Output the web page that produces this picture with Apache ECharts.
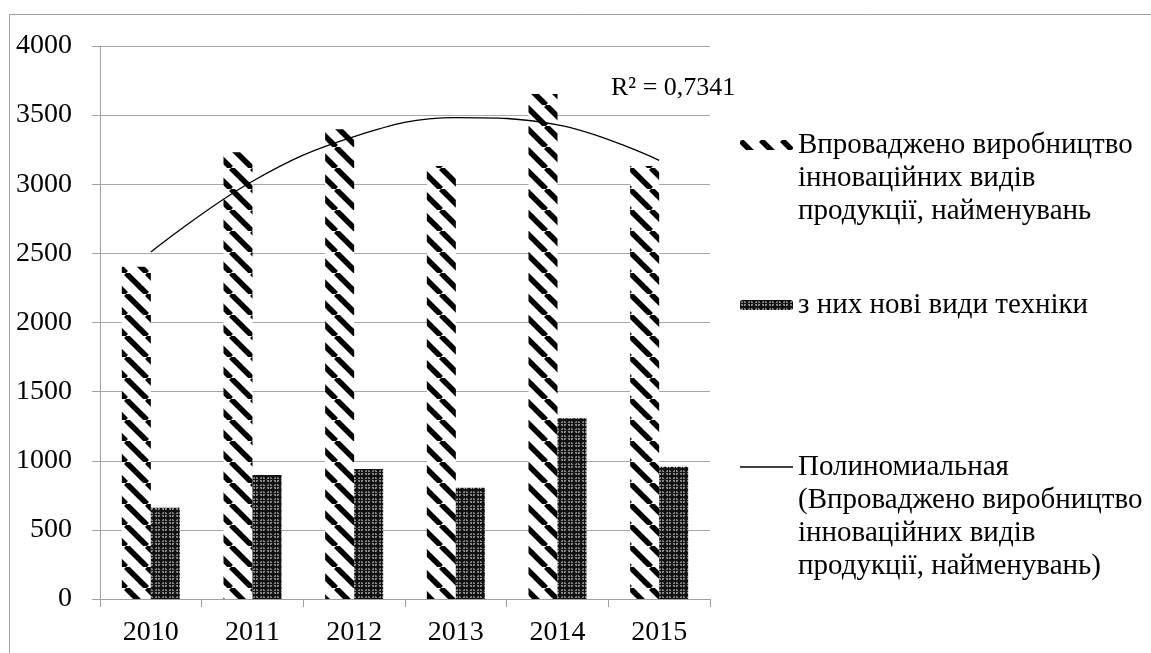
<!DOCTYPE html>
<html>
<head>
<meta charset="utf-8">
<script src="https://cdn.jsdelivr.net/npm/echarts@6/dist/echarts.min.js"></script>
<style>
  html, body { margin: 0; padding: 0; background: #fff; }
  #chart { width: 1151px; height: 653px; }
</style>
</head>
<body>
<div id="chart"></div>
<script>
// дані
const years = ['2010', '2011', '2012', '2013', '2014', '2015']
const vprovadzheno = [2404, 3231, 3397, 3132, 3653, 3132]
const noviTekhniky = [660, 897, 940, 805, 1307, 957]
// поліноміальний тренд
const trend = [2510, 3022, 3345, 3482, 3430, 3173]
const yTicks = [0, 500, 1000, 1500, 2000, 2500, 3000, 3500, 4000]

const name1 = 'Впроваджено виробництво\nінноваційних видів\nпродукції, найменувань'
const name2 = 'з них нові види техніки'
const name3 = 'Полиномиальная\n(Впроваджено виробництво\nінноваційних видів\nпродукції, найменувань)'

const FONT = '"Liberation Serif", "DejaVu Serif", serif'
const LH = 33

// штрихування "\\\"
function stripePattern() {
  const p = 21
  const c = document.createElement('canvas')
  c.width = p
  c.height = p
  const ctx = c.getContext('2d')
  ctx.fillStyle = '#fff'
  ctx.fillRect(0, 0, p, p)
  ctx.strokeStyle = '#000'
  ctx.lineWidth = 5.5
  for (let x0 = -p; x0 <= p; x0 += p) {
    ctx.beginPath()
    ctx.moveTo(x0, 0)
    ctx.lineTo(x0 + p, p)
    ctx.stroke()
  }
  return c
}

// темна сітка з крапками
function dotPattern() {
  const p = 7
  const c = document.createElement('canvas')
  c.width = p
  c.height = p
  const ctx = c.getContext('2d')
  ctx.fillStyle = '#111'
  ctx.fillRect(0, 0, p, p)
  ctx.fillStyle = '#cfcfcf'
  ctx.beginPath()
  ctx.arc(3.5, 3.5, 2.6, 0, Math.PI * 2)
  ctx.fill()
  ctx.strokeStyle = '#111'
  ctx.lineWidth = 1.4
  ctx.beginPath()
  ctx.moveTo(3.5, 1)
  ctx.lineTo(3.5, 6)
  ctx.moveTo(1, 3.5)
  ctx.lineTo(6, 3.5)
  ctx.stroke()
  return c
}

const stripes = { image: stripePattern(), repeat: 'repeat' }
const dots = { image: dotPattern(), repeat: 'repeat' }

// значок легенди стоїть навпроти першого рядка: додаємо порожні рядки зверху
function topAligned(name) {
  const n = name.split('\n').length
  return '\n'.repeat(n - 1) + name
}

const legendText = {
  fontFamily: FONT,
  fontSize: 29,
  color: '#000',
  lineHeight: LH
}

const chart = echarts.init(document.getElementById('chart'))
const option = {
  animation: false,
  backgroundColor: '#fff',
  grid: {
    left: 100,
    right: 441,
    top: 46,
    bottom: 54
  },
  graphic: [
    {
      type: 'rect',
      shape: { x: 9.5, y: 14.5, width: 1200, height: 700 },
      style: { fill: 'none', stroke: '#a0a0a0', lineWidth: 1 },
      silent: true
    },
    {
      type: 'text',
      left: 611,
      top: 75,
      style: {
        text: 'R² = 0,7341',
        font: '26px ' + FONT,
        fill: '#000'
      }
    }
  ],
  legend: [
    {
      left: 740,
      top: 145 - 2.5 * LH,
      padding: 0,
      itemWidth: 53,
      itemHeight: 10,
      data: [{ name: name1 }],
      formatter: topAligned,
      textStyle: legendText
    },
    {
      left: 740,
      top: 305 - 0.5 * LH,
      padding: 0,
      itemWidth: 53,
      itemHeight: 10,
      data: [{ name: name2 }],
      textStyle: legendText
    },
    {
      left: 740,
      top: 467 - 3.5 * LH,
      padding: 0,
      itemWidth: 53,
      itemHeight: 1.5,
      data: [{ name: name3, icon: 'rect' }],
      formatter: topAligned,
      textStyle: legendText
    }
  ],
  xAxis: {
    type: 'category',
    data: years,
    axisLine: { show: true, lineStyle: { color: '#a0a0a0', width: 1 } },
    axisTick: { show: true, length: 8, lineStyle: { color: '#a0a0a0' } },
    axisLabel: {
      margin: 20,
      fontFamily: FONT,
      fontSize: 28,
      color: '#000'
    }
  },
  yAxis: {
    type: 'value',
    min: yTicks[0],
    max: yTicks[yTicks.length - 1],
    interval: yTicks[1] - yTicks[0],
    axisLine: { show: true, lineStyle: { color: '#a0a0a0', width: 1 } },
    axisTick: { show: true, length: 8, lineStyle: { color: '#a0a0a0' } },
    axisLabel: {
      margin: 28,
      fontFamily: FONT,
      fontSize: 28,
      color: '#000',
      formatter: v => String(v)
    },
    splitLine: { show: true, lineStyle: { color: '#a6a6a6', width: 1 } }
  },
  series: [
    {
      name: name1,
      type: 'bar',
      barWidth: 29,
      barGap: '0%',
      itemStyle: { color: stripes },
      data: vprovadzheno
    },
    {
      name: name2,
      type: 'bar',
      barWidth: 29,
      itemStyle: { color: dots },
      data: noviTekhniky
    },
    {
      name: name3,
      type: 'line',
      smooth: 0.4,
      symbol: 'none',
      lineStyle: { color: '#000', width: 1.3 },
      itemStyle: { color: '#000' },
      data: trend,
      z: 5
    }
  ]
}
chart.setOption(option)
</script>
</body>
</html>
